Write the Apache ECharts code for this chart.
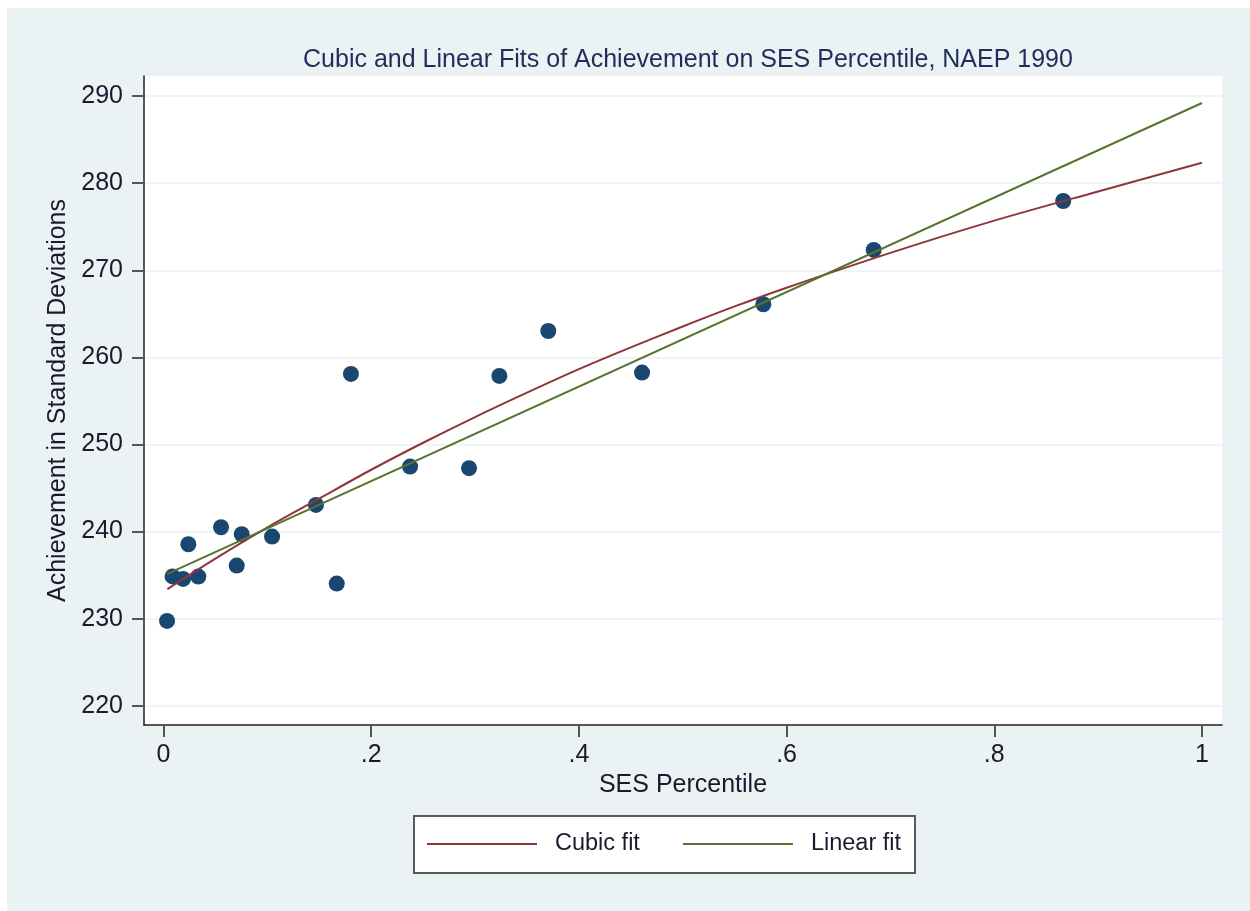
<!DOCTYPE html>
<html>
<head>
<meta charset="utf-8">
<script src="https://cdn.jsdelivr.net/npm/echarts@6/dist/echarts.min.js"></script>
<style>
  html, body { margin: 0; padding: 0; background: #fff; }
  #chart { width: 1250px; height: 911px; }
</style>
</head>
<body>
<div id="chart"></div>
<script>
// ---- data ----
const sesPercentile = [0.0034, 0.0087, 0.0188, 0.0239, 0.0335, 0.0554, 0.0705, 0.0753, 0.1045, 0.1468,
                       0.1668, 0.1805, 0.2374, 0.2942, 0.3234, 0.3705, 0.4608, 0.5776, 0.6839, 0.8664];
const achievement   = [229.75, 234.86, 234.57, 238.55, 234.84, 240.50, 236.10, 239.70, 239.43, 243.06,
                       234.03, 258.10, 247.46, 247.28, 257.87, 263.03, 258.25, 266.10, 272.33, 277.95];

const cubicX = [0.0037, 0.05, 0.1026, 0.15, 0.2, 0.25, 0.3, 0.35, 0.4, 0.45, 0.5, 0.55, 0.6, 0.7, 0.8, 0.9, 1.0];
const cubicY = [233.4, 236.9, 240.65, 243.8, 247.1, 250.2, 253.15, 255.95, 258.65, 261.15, 263.55, 265.85, 268.0, 272.0, 275.7, 279.05, 282.35];

const linearX = [0.0037, 1.0];
const linearY = [235.15, 289.2];

const xTicks = [0, 0.2, 0.4, 0.6, 0.8, 1];
const xTickLabels = ['0', '.2', '.4', '.6', '.8', '1'];
const yTicks = [220, 230, 240, 250, 260, 270, 280, 290];

const titleText = 'Cubic and Linear Fits of Achievement on SES Percentile, NAEP 1990';
const xTitle = 'SES Percentile';
const yTitle = 'Achievement in Standard Deviations';
const seriesNames = ['Cubic fit', 'Linear fit'];

// ---- chart ----
const FONT = "'Liberation Sans', Arial, sans-serif";
const zip = (a, b) => a.map((v, i) => [v, b[i]]);

const chart = echarts.init(document.getElementById('chart'), null, { renderer: 'canvas' });

chart.setOption({
  backgroundColor: '#ffffff',
  animation: false,
  graphic: [{
    type: 'rect', z: -10, silent: true,
    shape: { x: 7, y: 8, width: 1250, height: 911 },
    style: { fill: '#EAF2F3' }
  }],
  title: {
    text: titleText,
    left: 683, top: 43, textAlign: 'center',
    textStyle: { fontFamily: FONT, fontSize: 25, fontWeight: 'normal', color: '#1f2d5c' }
  },
  grid: {
    left: 144, top: 76, width: 1078, height: 649,
    show: true, backgroundColor: '#ffffff', borderWidth: 0
  },
  xAxis: {
    type: 'value', min: -0.0188, max: 1.0193,
    name: xTitle, nameLocation: 'middle', nameGap: 44,
    nameTextStyle: { fontFamily: FONT, fontSize: 25, color: '#1a1a2e' },
    axisLine: { show: true, onZero: false, lineStyle: { color: '#222', width: 1.5 } },
    axisTick: { show: true, inside: false, length: 12, customValues: xTicks, lineStyle: { color: '#555', width: 2 } },
    axisLabel: {
      customValues: xTicks, margin: 18,
      fontFamily: FONT, fontSize: 25, color: '#1a1a2e',
      formatter: v => {
        const i = xTicks.findIndex(t => Math.abs(t - v) < 1e-9);
        return i >= 0 ? xTickLabels[i] : '';
      }
    },
    splitLine: { show: false }
  },
  yAxis: {
    type: 'value', min: 217.8, max: 292.3,
    name: yTitle, nameLocation: 'middle', nameGap: 72, nameRotate: 90,
    nameTextStyle: { fontFamily: FONT, fontSize: 25, color: '#1a1a2e' },
    axisLine: { show: true, onZero: false, lineStyle: { color: '#222', width: 1.5 } },
    axisTick: { show: true, inside: false, length: 12, customValues: yTicks, lineStyle: { color: '#555', width: 2 } },
    axisLabel: {
      customValues: yTicks, margin: 21,
      fontFamily: FONT, fontSize: 25, color: '#1a1a2e'
    },
    splitLine: { show: true, lineStyle: { color: '#EAF2F3', width: 1.5 } }
  },
  legend: {
    data: seriesNames.map(n => ({ name: n, icon: 'rect' })),
    left: 414, top: 816,
    orient: 'horizontal',
    padding: [16, 14, 17, 13],
    itemWidth: 110, itemHeight: 2, itemGap: 43,
    backgroundColor: '#ffffff',
    borderColor: '#5a5a5a', borderWidth: 2, borderRadius: 0,
    textStyle: { fontFamily: FONT, fontSize: 23.5, lineHeight: 24, color: '#1a1a2e', padding: [0, 0, 0, 13] }
  },
  series: [
    {
      type: 'scatter', name: 'Achievement',
      data: zip(sesPercentile, achievement),
      symbol: 'circle', symbolSize: 16,
      itemStyle: { color: '#1A476F', opacity: 1 }
    },
    {
      type: 'line', name: seriesNames[0],
      data: zip(cubicX, cubicY),
      symbol: 'none', smooth: 0.3,
      lineStyle: { color: '#90353B', width: 2 },
      itemStyle: { color: '#90353B' }
    },
    {
      type: 'line', name: seriesNames[1],
      data: zip(linearX, linearY),
      symbol: 'none',
      lineStyle: { color: '#55752F', width: 2 },
      itemStyle: { color: '#55752F' }
    }
  ]
});
</script>
</body>
</html>
